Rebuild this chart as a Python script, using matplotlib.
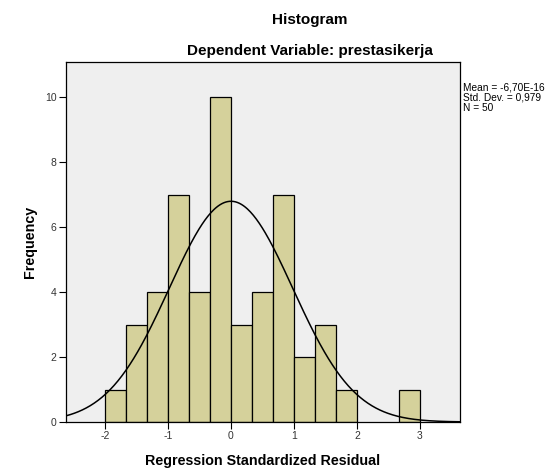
import numpy as np
import matplotlib
matplotlib.use("Agg")
import matplotlib.pyplot as plt

plt.rcParams['font.family'] = ['Liberation Sans', 'DejaVu Sans']

# Data
bin_edges = [-2.0, -5/3, -4/3, -1.0, -2/3, -1/3, 0.0, 1/3, 2/3, 1.0, 4/3, 5/3, 2.0, 7/3, 8/3, 3.0]
counts = [1, 3, 4, 7, 4, 10, 3, 4, 7, 2, 3, 1, 0, 0, 1]
mean_val = -6.70e-16
std_val = 0.979
n_val = 50
x_ticks = [-2, -1, 0, 1, 2, 3]
y_ticks = [0, 2, 4, 6, 8, 10]

fig = plt.figure(figsize=(5.49, 4.75), dpi=100)
W, H = 549, 475
left, right, top, bottom = 65.5, 460, 62, 422
ax = fig.add_axes([left / W, 1 - bottom / H, (right - left) / W, (bottom - top) / H])
ax.set_facecolor('#efefef')

widths = np.diff(bin_edges)
for e, w, c in zip(bin_edges[:-1], widths, counts):
    if c > 0:
        ax.bar(e, c, width=w, align='edge', color='#d5d19b', edgecolor='black', linewidth=0.9, zorder=2)

xmin, xmax = -2.627, 3.635
xs = np.linspace(xmin, xmax, 400)
bw = bin_edges[1] - bin_edges[0]
ys = n_val * bw / (std_val * np.sqrt(2 * np.pi)) * np.exp(-0.5 * ((xs - mean_val) / std_val) ** 2)
ax.plot(xs, ys, color='black', linewidth=1.1, zorder=3)

ax.set_xlim(xmin, xmax)
ax.set_ylim(0, (bottom - top) / 32.5)
ax.set_xticks(x_ticks)
ax.set_yticks(y_ticks)
ax.set_xticklabels([str(t) for t in x_ticks])
ax.set_yticklabels([str(t) for t in y_ticks])
ax.tick_params(direction='out', length=5, width=0.8, labelsize=7.5, colors='black', labelcolor='#333333', pad=1.5)
for s in ax.spines.values():
    s.set_color('black')
    s.set_linewidth(0.9)

ax.set_xlabel('Regression Standardized Residual', fontsize=10.3, fontweight='bold', labelpad=9)
ax.set_ylabel('Frequency', fontsize=10.3, fontweight='bold', labelpad=6)

fig.text(310 / W, 1 - 20 / H, 'Histogram', ha='center', va='center', fontsize=11, fontweight='bold')
fig.text(310 / W, 1 - 51 / H, 'Dependent Variable: prestasikerja', ha='center', va='center', fontsize=11, fontweight='bold')

stats = 'Mean = -6,70E-16\nStd. Dev. = 0,979\nN = 50'
fig.text(463 / W, 1 - 82 / H, stats, ha='left', va='top', fontsize=7.3, linespacing=1.05)

fig.savefig('out.png', dpi=100)
